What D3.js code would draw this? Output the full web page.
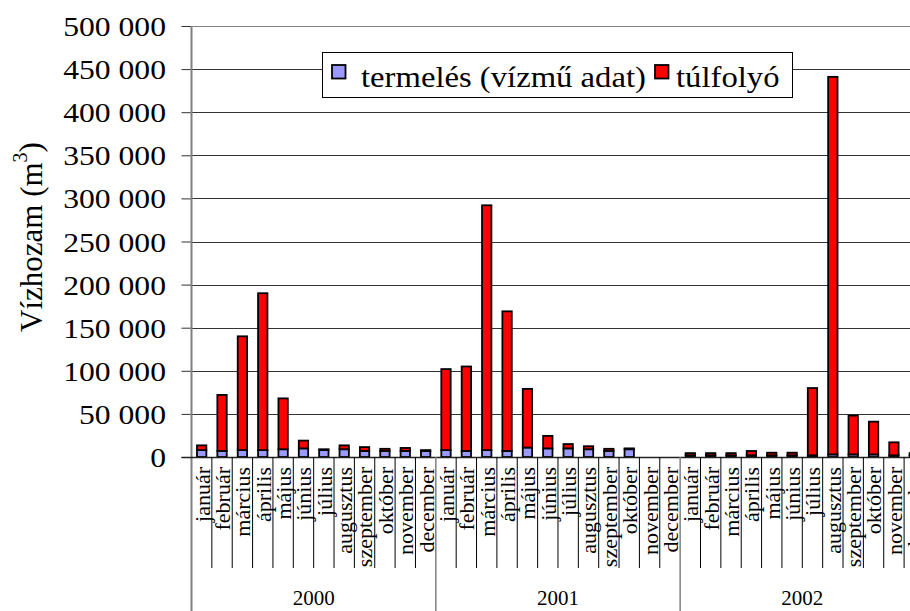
<!DOCTYPE html>
<html><head><meta charset="utf-8">
<script src="https://cdn.jsdelivr.net/npm/d3@7"></script>
<style>
html,body{margin:0;padding:0;background:#fff;}
svg{display:block;}
</style>
</head><body>
<script>
const months = ["január","február","március","április","május","június","július","augusztus","szeptember","október","november","december"];
const years = ["2000","2001","2002"];
// thousand m3, 36 months (2000-01 .. 2002-12)
const termeles = [8,7,8,8,9,10,8,9,7,7,7,7,
                  8,7,8,7,11,10,10,9,7,9,0,0,
                  2,2,2,2,2,2,2,3,3,3,2,2];
const tulfolyo = [5.5,65,132,182,59,9,1,4.5,4.5,2.5,3.5,1,
                  94,98,284,162,68,14.5,5,3.5,2.5,1,0,0,
                  2.5,2.5,2.5,5,3,3,78,438,45,38,15,2.5];
const seriesNames = ["termelés (vízmű adat)","túlfolyó"];
const yTicks = [0,50000,100000,150000,200000,250000,300000,350000,400000,450000,500000];

const W = 910, H = 611;
const font = "Liberation Serif, Times New Roman, serif";
const x0 = 191.5, step = 20.36, y0 = 457, yTop = 26;

const data = [];
years.forEach((yr, yi) => months.forEach((m, mi) => {
  const i = yi*12+mi;
  data.push({i, year: yr, month: m, termeles: termeles[i]*1000, tulfolyo: tulfolyo[i]*1000});
}));

const svg = d3.select("body").append("svg").attr("width", W).attr("height", H)
  .style("font-family", font);

const x = d3.scaleBand().domain(data.map(d=>d.i)).range([x0, x0+36*step]).paddingInner(0.54).paddingOuter(0.27);
const y = d3.scaleLinear().domain([0,500000]).range([y0, yTop]);

const loc = d3.formatLocale({decimal:",", thousands:" ", grouping:[3], currency:["",""]});
const fmt = loc.format(",d");

// gridlines
svg.append("g").selectAll("line").data(yTicks.filter(t=>t>0)).join("line")
  .attr("x1", x0).attr("x2", W)
  .attr("y1", d=>Math.round(y(d))+0.5).attr("y2", d=>Math.round(y(d))+0.5)
  .attr("stroke", d=> d===500000 ? "#808080" : "#333").attr("stroke-width", 1);

// bars
const stack = d3.stack().keys(["termeles","tulfolyo"]);
const stacked = stack(data);
const colors = ["#9999FF","#FF0000"];
svg.append("g").selectAll("g").data(stacked).join("g")
  .attr("fill", (d,i)=>colors[i])
  .selectAll("rect").data(d=>d.filter(s=>s[1]-s[0]>0)).join("rect")
  .attr("x", d=>x(d.data.i)).attr("width", x.bandwidth())
  .attr("y", d=>y(d[1])).attr("height", d=>y(d[0])-y(d[1]))
  .attr("stroke","#000").attr("stroke-width",1.8);

// y axis
const yAxis = d3.axisLeft(y).tickValues(yTicks).tickFormat(fmt).tickSize(10).tickPadding(15);
const ga = svg.append("g").attr("transform", `translate(${x0},0)`).call(yAxis);
ga.attr("font-family", null);
ga.select(".domain").remove();
ga.selectAll(".tick line").attr("stroke","#333");
ga.selectAll(".tick text")
  .attr("x", null).attr("dy", null)
  .attr("transform","translate(-25.5,9.5) scale(1.13,1)")
  .style("font-family", font).attr("font-size", 28).attr("fill","#000");

// axis line (extends to bottom)
svg.append("line").attr("x1",x0).attr("x2",x0).attr("y1",yTop).attr("y2",H)
  .attr("stroke","#808080").attr("stroke-width",2);
// x axis baseline
svg.append("line").attr("x1",x0-10).attr("x2",W).attr("y1",y0+0.5).attr("y2",y0+0.5)
  .attr("stroke","#222").attr("stroke-width",1.4);

// category separators
const bounds = d3.range(1, 37);
svg.append("g").selectAll("line").data(bounds).join("line")
  .attr("x1", d=>x0+d*step).attr("x2", d=>x0+d*step)
  .attr("y1", y0).attr("y2", d=> d%12===0 ? H : 568)
  .attr("stroke", d=> d%12===0 ? "#808080" : "#000").attr("stroke-width", d=> d%12===0 ? 1.5 : 1);

// month labels
svg.append("g").selectAll("text").data(data).join("text")
  .attr("transform", d=>`translate(${x(d.i)+x.bandwidth()/2},467) rotate(-90)`)
  .attr("text-anchor","end").attr("dy","0.36em")
  .style("font-family", font).attr("font-size", 22).attr("fill","#000")
  .text(d=>d.month);

// year labels
svg.append("g").selectAll("text").data(years).join("text")
  .attr("x", (d,i)=>x0+(i*12+6)*step).attr("y", 605)
  .attr("text-anchor","middle").style("font-family", font).attr("font-size", 21).attr("fill","#000")
  .text(d=>d);

// y label
const yl = svg.append("text")
  .attr("transform","translate(41.5,237) rotate(-90)")
  .attr("text-anchor","middle").style("font-family", font).attr("font-size", 31).attr("fill","#000");
yl.append("tspan").text("Vízhozam (m");
yl.append("tspan").attr("font-size",20).attr("dy","-0.75em").text("3");
yl.append("tspan").attr("dy","0.48em").text(")");

// legend
const lg = svg.append("g");
lg.append("rect").attr("x",322.5).attr("y",52.5).attr("width",470).attr("height",45)
  .attr("fill","#fff").attr("stroke","#000").attr("stroke-width",1);
const items = [{name: seriesNames[0], c: colors[0], sx: 332, tx: 361},
               {name: seriesNames[1], c: colors[1], sx: 655, tx: 676}];
items.forEach(it=>{
  lg.append("rect").attr("x",it.sx).attr("y",65).attr("width",13.5).attr("height",13.5)
    .attr("fill",it.c).attr("stroke","#000").attr("stroke-width",1.8);
  lg.append("text").attr("transform",`translate(${it.tx},86.5) scale(1.09,1)`)
    .style("font-family",font).attr("font-size",30)
    .attr("fill","#000").text(it.name);
});
</script>
</body></html>
